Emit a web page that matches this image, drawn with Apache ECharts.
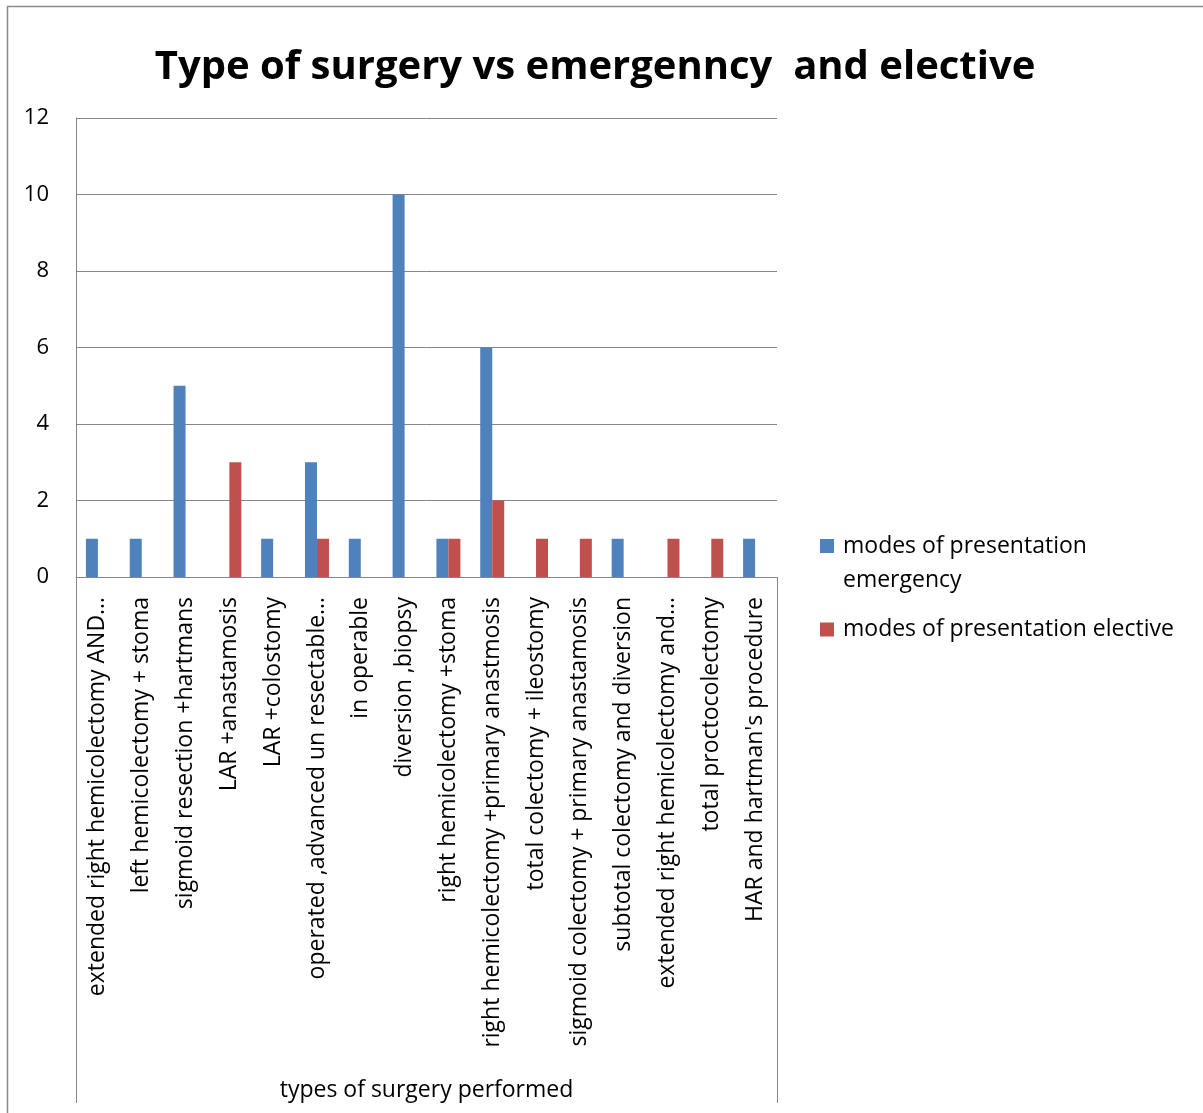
<!DOCTYPE html>
<html>
<head>
<meta charset="utf-8">
<script src="https://cdn.jsdelivr.net/npm/echarts@6/dist/echarts.min.js"></script>
<style>
  html, body { margin: 0; padding: 0; background: #fff; }
  #chart { width: 1203px; height: 1113px; }
</style>
</head>
<body>
<div id="chart"></div>
<script>
// Surgery types on the category axis
const categories = [
  'extended right hemicolectomy AND\u2026',
  'left hemicolectomy + stoma',
  'sigmoid resection +hartmans',
  'LAR +anastamosis',
  'LAR +colostomy',
  'operated ,advanced un resectable\u2026',
  'in operable',
  'diversion ,biopsy',
  'right hemicolectomy +stoma',
  'right hemicolectomy +primary anastmosis',
  'total colectomy + ileostomy',
  'sigmoid colectomy + primary anastamosis',
  'subtotal colectomy and diversion',
  'extended right hemicolectomy and\u2026',
  'total proctocolectomy',
  "HAR and hartman's procedure"
];

// Case counts per mode of presentation
const emergency = [1, 1, 5, 0, 1, 3, 1, 10, 1, 6, 0, 0, 1, 0, 0, 1];
const elective  = [0, 0, 0, 3, 0, 1, 0, 0, 1, 2, 1, 1, 0, 1, 1, 0];

const seriesNames = ['modes of presentation emergency', 'modes of presentation elective'];
const yTicks = { min: 0, max: 12, step: 2 };

const GRID = { left: 76, top: 118, right: 1203 - 777, bottom: 1113 - 577 };
const LINE = '#868686';
const FONT = '"Open Sans", "Liberation Sans", sans-serif';

const chart = echarts.init(document.getElementById('chart'));
chart.setOption({
  animation: false,
  backgroundColor: '#fff',
  title: {
    text: 'Type of surgery vs emergenncy  and elective',
    left: 590,
    top: 43,
    textAlign: 'center',
    textStyle: { fontFamily: FONT, fontWeight: 'bold', fontSize: 40, color: '#000' }
  },
  legend: [
    {
      // wrapped name; a blank leading line keeps the first line level with the swatch
      orient: 'vertical',
      left: 815,
      top: 490,
      icon: 'rect',
      itemWidth: 14,
      itemHeight: 14,
      selectedMode: false,
      data: [seriesNames[0]],
      formatter: () => '\u00a0\nmodes of presentation\nemergency',
      textStyle: {
        fontFamily: FONT, fontSize: 23, color: '#000',
        lineHeight: 34, padding: [0, 0, 0, 4]
      }
    },
    {
      orient: 'vertical',
      left: 815,
      top: 613,
      icon: 'rect',
      itemWidth: 14,
      itemHeight: 14,
      selectedMode: false,
      data: [seriesNames[1]],
      textStyle: { fontFamily: FONT, fontSize: 23, color: '#000', padding: [0, 0, 0, 4] }
    }
  ],
  grid: GRID,
  xAxis: {
    type: 'category',
    data: categories,
    name: 'types of surgery performed',
    nameLocation: 'middle',
    nameGap: 502,
    nameTextStyle: { fontFamily: FONT, fontSize: 23, color: '#000' },
    axisLine: { show: true, lineStyle: { color: LINE, width: 1 } },
    axisTick: { show: false },
    axisLabel: {
      interval: 0,
      rotate: 90,
      margin: 20,
      fontFamily: FONT,
      fontSize: 23,
      color: '#000'
    }
  },
  yAxis: {
    type: 'value',
    min: yTicks.min,
    max: yTicks.max,
    interval: yTicks.step,
    axisLine: { show: true, lineStyle: { color: LINE, width: 1 } },
    axisTick: { show: false },
    splitLine: { show: true, lineStyle: { color: LINE, width: 1 } },
    axisLabel: { margin: 27, fontFamily: FONT, fontSize: 22, color: '#000' }
  },
  series: [
    {
      name: seriesNames[0],
      type: 'bar',
      data: emergency,
      barWidth: 12,
      barGap: '0%',
      itemStyle: { color: '#4F81BD' }
    },
    {
      name: seriesNames[1],
      type: 'bar',
      data: elective,
      barWidth: 12,
      barGap: '0%',
      itemStyle: { color: '#C0504D' }
    }
  ],
  graphic: [
    // outer chart frame
    { type: 'rect', silent: true, shape: { x: 7.5, y: 6.5, width: 1300, height: 1200 },
      style: { fill: null, stroke: '#8a8a8a', lineWidth: 1.5 } },
    // frame around the category label area
    { type: 'line', silent: true, shape: { x1: 76.5, y1: 577, x2: 76.5, y2: 1103 },
      style: { stroke: LINE, lineWidth: 1 } },
    { type: 'line', silent: true, shape: { x1: 777.5, y1: 577, x2: 777.5, y2: 1103 },
      style: { stroke: LINE, lineWidth: 1 } }
  ]
});
</script>
</body>
</html>
